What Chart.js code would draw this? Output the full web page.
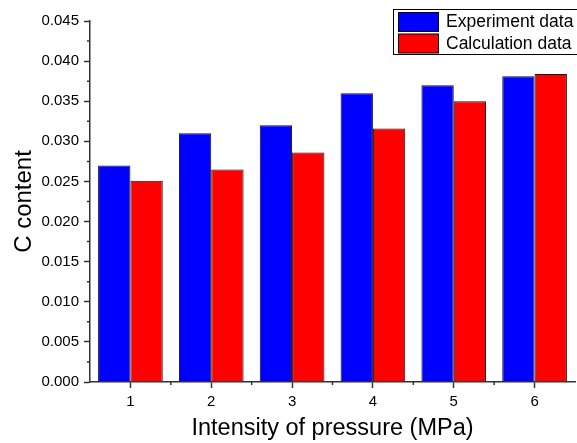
<!DOCTYPE html>
<html>
<head>
<title>C content bar chart</title>
<script src="https://cdn.jsdelivr.net/npm/chart.js@4.4.0/dist/chart.umd.min.js"></script>
<style>
html, body { margin:0; padding:0; background:#fff; }
#wrap { width:577px; height:443px; }
</style>
</head>
<body>
<div id="wrap"><canvas id="bars"></canvas></div>
<script>
var pressure = ['1', '2', '3', '4', '5', '6'];
var experiment = [0.027, 0.031, 0.032, 0.036, 0.037, 0.0381];
var calculation = [0.0251, 0.0265, 0.0286, 0.0316, 0.0350, 0.0384];
var yTicks = [0, 0.005, 0.010, 0.015, 0.020, 0.025, 0.030, 0.035, 0.040, 0.045];

var axisColor = '#333';

// minor ticks + boxed legend, Origin style
var extras = {
  id: 'extras',
  afterDraw: function (chart) {
    var c = chart.ctx, x = chart.scales.x, y = chart.scales.y;
    c.save();
    c.strokeStyle = axisColor;
    c.lineWidth = 1.5;
    c.beginPath();
    for (var i = 0; i < yTicks.length - 1; i++) {
      var py = y.getPixelForValue((yTicks[i] + yTicks[i + 1]) / 2);
      c.moveTo(x.left, py); c.lineTo(x.left - 3, py);
    }
    var step = (x.right - x.left) / pressure.length;
    for (var j = 1; j < pressure.length; j++) {
      var px = x.left + j * step;
      c.moveTo(px, y.bottom); c.lineTo(px, y.bottom + 3);
    }
    c.stroke();

    // legend
    c.lineWidth = 1;
    c.strokeStyle = '#000';
    c.strokeRect(393.5, 9.5, 200, 45);
    var ds = chart.data.datasets;
    c.font = '17.5px "Liberation Sans", Arial, sans-serif';
    c.textBaseline = 'middle';
    for (var k = 0; k < ds.length; k++) {
      var top = 12 + k * 21.5;
      c.fillStyle = ds[k].backgroundColor;
      c.fillRect(398.5, top + 0.5, 40, 19);
      c.strokeRect(398.5, top + 0.5, 40, 19);
      c.fillStyle = '#000';
      c.fillText(ds[k].label, 446, top + 10.5);
    }
    c.restore();
  }
};

new Chart(document.getElementById('bars'), {
  type: 'bar',
  data: {
    labels: pressure,
    datasets: [
      { label: 'Experiment data', data: experiment, backgroundColor: '#0000ff', borderColor: '#111', borderWidth: 1 },
      { label: 'Calculation data', data: calculation, backgroundColor: '#ff0000', borderColor: '#111', borderWidth: 1 }
    ]
  },
  options: {
    responsive: true,
    maintainAspectRatio: false,
    animation: false,
    categoryPercentage: 0.8,
    barPercentage: 1.0,
    layout: { padding: { top: 21, right: 2, left: 0, bottom: 0 } },
    plugins: { legend: { display: false }, tooltip: { enabled: false } },
    scales: {
      x: {
        grid: { drawOnChartArea: false, offset: false, tickLength: 6, tickColor: axisColor, tickWidth: 1.5 },
        border: { color: axisColor, width: 1.5 },
        ticks: { color: '#000', padding: 5, font: { family: '"Liberation Sans", Arial', size: 15 } },
        title: { display: true, text: 'Intensity of pressure (MPa)', color: '#000', padding: { top: 0, bottom: 0 },
                 font: { family: '"Liberation Sans", Arial', size: 23.5 } },
        afterFit: function (s) { s.height = 61; }
      },
      y: {
        min: 0, max: 0.045,
        grid: { drawOnChartArea: false, tickLength: 6, tickColor: axisColor, tickWidth: 1.5 },
        border: { color: axisColor, width: 1.5 },
        ticks: { stepSize: 0.005, color: '#000', padding: 5,
                 font: { family: '"Liberation Sans", Arial', size: 15 },
                 callback: function (v) { return v.toFixed(3); } },
        title: { display: true, text: 'C content', color: '#000', padding: { top: 10, bottom: 0 },
                 font: { family: '"Liberation Sans", Arial', size: 24 } },
        afterFit: function (s) { s.width = 90; }
      }
    }
  },
  plugins: [extras]
});
</script>
</body>
</html>
